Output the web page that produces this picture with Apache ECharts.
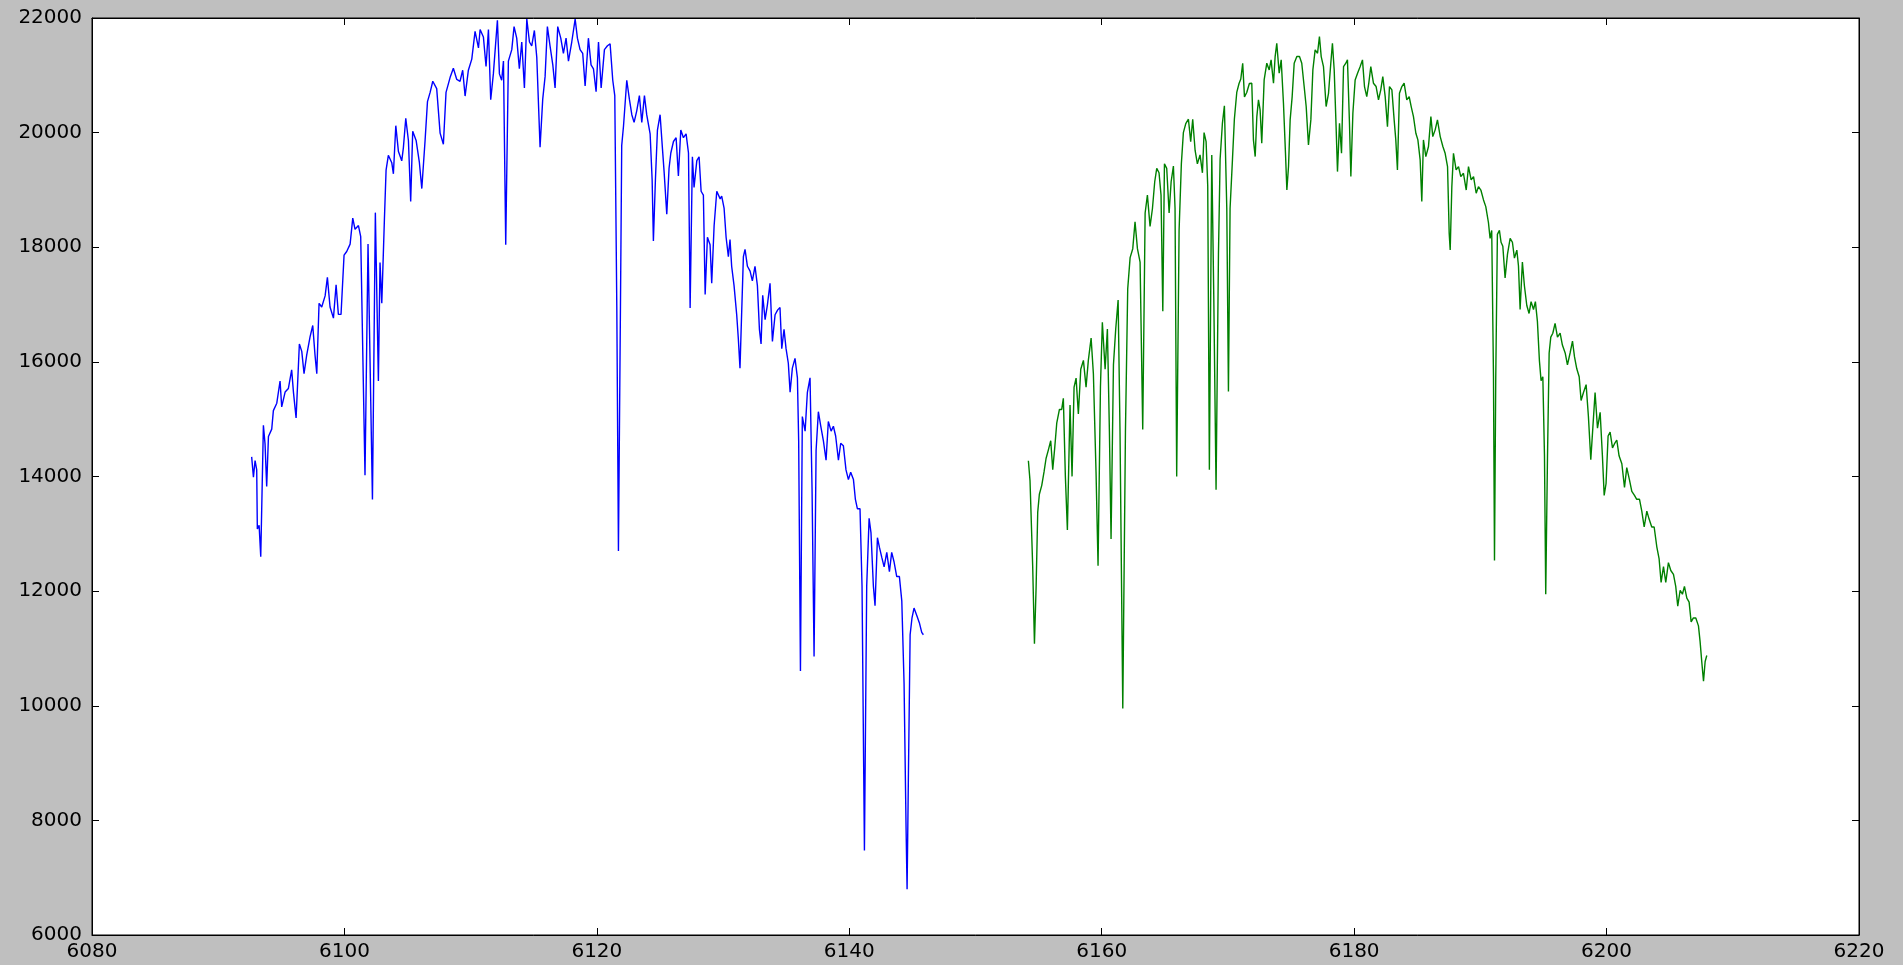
<!DOCTYPE html>
<html>
<head>
<meta charset="utf-8">
<script src="https://cdn.jsdelivr.net/npm/echarts@6/dist/echarts.min.js"></script>
<style>
html,body{margin:0;padding:0;background:#bfbfbf;}
#chart{width:1903px;height:965px;}
</style>
</head>
<body>
<div id="chart"></div>
<script>
const xTicks = [6080, 6100, 6120, 6140, 6160, 6180, 6200, 6220];
const yTicks = [6000, 8000, 10000, 12000, 14000, 16000, 18000, 20000, 22000];

const blueX = [6092.65,6092.79,6092.92,6093.05,6093.10,6093.24,6093.37,6093.58,6093.71,6093.84,6093.98,6094.24,6094.37,6094.64,6094.90,6095.03,6095.30,6095.56,6095.82,6095.96,6096.17,6096.43,6096.62,6096.80,6097.01,6097.28,6097.49,6097.67,6097.81,6097.99,6098.20,6098.47,6098.65,6098.86,6099.13,6099.34,6099.52,6099.73,6099.97,6100.18,6100.45,6100.66,6100.84,6101.11,6101.29,6101.63,6101.87,6102.22,6102.45,6102.69,6102.82,6102.96,6103.17,6103.30,6103.48,6103.75,6103.88,6104.07,6104.28,6104.54,6104.67,6104.86,6105.07,6105.25,6105.41,6105.68,6105.94,6106.13,6106.39,6106.58,6106.79,6107.00,6107.31,6107.58,6107.84,6108.05,6108.37,6108.63,6108.90,6109.16,6109.37,6109.56,6109.82,6110.09,6110.35,6110.62,6110.75,6111.01,6111.22,6111.41,6111.59,6111.80,6112.12,6112.28,6112.46,6112.60,6112.78,6112.99,6113.26,6113.44,6113.65,6113.86,6114.05,6114.26,6114.45,6114.66,6114.84,6115.05,6115.24,6115.50,6115.71,6115.90,6116.08,6116.29,6116.51,6116.69,6116.90,6117.14,6117.35,6117.56,6117.75,6118.01,6118.28,6118.46,6118.67,6118.88,6119.07,6119.33,6119.54,6119.73,6119.94,6120.13,6120.34,6120.60,6120.84,6121.05,6121.26,6121.42,6121.58,6121.71,6121.87,6121.97,6122.11,6122.24,6122.37,6122.58,6122.77,6122.95,6123.16,6123.37,6123.56,6123.77,6123.95,6124.22,6124.38,6124.48,6124.64,6124.80,6125.01,6125.20,6125.33,6125.54,6125.72,6125.86,6126.07,6126.28,6126.46,6126.65,6126.86,6127.07,6127.26,6127.39,6127.57,6127.70,6127.92,6128.10,6128.26,6128.44,6128.58,6128.76,6128.97,6129.10,6129.29,6129.50,6129.77,6129.89,6130.08,6130.24,6130.42,6130.55,6130.68,6130.87,6131.08,6131.21,6131.34,6131.48,6131.61,6131.74,6131.93,6132.14,6132.32,6132.53,6132.72,6132.88,6133.01,6133.14,6133.33,6133.51,6133.72,6133.91,6134.12,6134.33,6134.51,6134.65,6134.83,6134.99,6135.17,6135.31,6135.49,6135.70,6135.89,6135.99,6136.13,6136.28,6136.50,6136.68,6136.89,6137.05,6137.21,6137.37,6137.55,6137.74,6137.95,6138.16,6138.34,6138.56,6138.74,6138.92,6139.14,6139.32,6139.53,6139.74,6139.93,6140.11,6140.33,6140.48,6140.64,6140.85,6141.01,6141.20,6141.38,6141.57,6141.72,6141.91,6142.04,6142.23,6142.39,6142.57,6142.76,6142.97,6143.18,6143.36,6143.55,6143.76,6143.97,6144.16,6144.34,6144.50,6144.58,6144.68,6144.82,6144.97,6145.13,6145.34,6145.55,6145.74,6145.87];
const blueY = [14343,13988,14278,14117,13084,13148,12600,14892,14569,13826,14698,14827,15150,15279,15666,15214,15473,15537,15860,15473,15021,16312,16183,15795,16118,16441,16635,16118,15795,17022,16958,17151,17474,16958,16764,17345,16828,16828,17861,17926,18055,18507,18313,18378,18184,14020,18055,13600,18604,15666,17732,17022,18507,19346,19604,19475,19282,20121,19669,19508,19734,20250,19863,18798,20024,19863,19475,19024,19863,20541,20702,20896,20767,19992,19798,20702,20960,21122,20928,20896,21089,20638,21089,21283,21767,21477,21800,21670,21154,21800,20573,21025,21961,21025,20914,21248,18042,21248,21448,21849,21648,21114,21581,20780,21982,21581,21515,21782,21314,19745,20580,20981,21849,21515,21181,20780,21849,21648,21381,21648,21248,21581,21982,21648,21448,21381,20813,21648,21181,21114,20713,21581,20780,21448,21515,21548,20914,20646,16974,12700,16974,19778,20112,20513,20914,20580,20313,20179,20380,20646,20179,20646,20313,19979,19177,18109,19177,20045,20313,19712,19311,18576,19378,19645,19845,19912,19244,20045,19912,19979,19645,16940,19578,19044,19511,19578,18977,18910,17174,18176,18042,17374,18376,18977,18844,18894,18683,18175,17837,18133,17668,17330,16822,16399,15891,16907,17837,17964,17668,17583,17414,17668,17330,16568,16314,17160,16737,16991,17372,16357,16822,16907,16949,16230,16568,16230,15976,15469,15891,16061,15722,14623,10605,15046,14792,15469,15722,13777,10858,14454,15130,14877,14623,14284,14961,14792,14877,14707,14284,14580,14538,14115,13946,14073,13946,13607,13438,13438,12085,7474,12085,13269,13015,12085,11747,12931,12762,12592,12423,12677,12339,12677,12508,12254,12254,11831,10393,7855,6798,8701,11239,11535,11704,11578,11450,11281,11239];

const greenX = [6154.19,6154.32,6154.53,6154.67,6154.80,6154.93,6155.06,6155.25,6155.43,6155.59,6155.78,6155.96,6156.12,6156.28,6156.44,6156.65,6156.83,6156.96,6157.12,6157.28,6157.49,6157.65,6157.81,6157.97,6158.15,6158.34,6158.55,6158.76,6158.94,6159.16,6159.34,6159.55,6159.71,6159.90,6160.05,6160.27,6160.45,6160.61,6160.74,6160.93,6161.11,6161.30,6161.45,6161.67,6161.88,6162.06,6162.25,6162.46,6162.64,6162.83,6163.04,6163.25,6163.44,6163.62,6163.83,6164.02,6164.20,6164.36,6164.54,6164.70,6164.84,6164.97,6165.15,6165.34,6165.50,6165.68,6165.81,6165.94,6166.13,6166.31,6166.47,6166.66,6166.87,6167.05,6167.21,6167.40,6167.58,6167.79,6167.98,6168.11,6168.27,6168.40,6168.53,6168.72,6168.88,6169.06,6169.25,6169.38,6169.56,6169.72,6169.91,6170.04,6170.17,6170.36,6170.51,6170.70,6170.88,6171.02,6171.17,6171.31,6171.49,6171.70,6171.89,6172.02,6172.16,6172.29,6172.42,6172.55,6172.68,6172.87,6173.08,6173.27,6173.42,6173.61,6173.74,6173.87,6174.06,6174.22,6174.40,6174.56,6174.67,6174.80,6174.93,6175.09,6175.25,6175.46,6175.67,6175.85,6176.04,6176.20,6176.38,6176.57,6176.73,6176.91,6177.10,6177.25,6177.39,6177.57,6177.78,6177.97,6178.15,6178.28,6178.42,6178.57,6178.68,6178.84,6179.00,6179.16,6179.34,6179.47,6179.63,6179.74,6179.90,6180.08,6180.27,6180.48,6180.66,6180.82,6181.00,6181.16,6181.32,6181.53,6181.74,6181.93,6182.11,6182.27,6182.46,6182.64,6182.80,6182.99,6183.17,6183.30,6183.43,6183.59,6183.78,6183.96,6184.17,6184.36,6184.52,6184.70,6184.89,6185.05,6185.23,6185.36,6185.49,6185.68,6185.89,6186.08,6186.23,6186.42,6186.60,6186.82,6187.03,6187.21,6187.40,6187.53,6187.61,6187.74,6187.87,6188.08,6188.27,6188.45,6188.66,6188.88,6189.06,6189.27,6189.46,6189.67,6189.85,6190.04,6190.25,6190.43,6190.64,6190.77,6190.90,6191.04,6191.12,6191.22,6191.35,6191.51,6191.64,6191.78,6191.96,6192.15,6192.36,6192.54,6192.70,6192.89,6193.02,6193.15,6193.33,6193.49,6193.68,6193.86,6194.02,6194.21,6194.36,6194.52,6194.68,6194.81,6194.95,6195.08,6195.18,6195.32,6195.45,6195.58,6195.74,6195.92,6196.11,6196.32,6196.50,6196.72,6196.90,6197.11,6197.30,6197.46,6197.64,6197.83,6197.98,6198.17,6198.38,6198.56,6198.75,6198.91,6199.09,6199.28,6199.49,6199.67,6199.81,6199.96,6200.12,6200.28,6200.47,6200.62,6200.81,6200.99,6201.21,6201.42,6201.60,6201.81,6202.00,6202.21,6202.39,6202.61,6202.79,6202.98,6203.19,6203.37,6203.58,6203.77,6203.98,6204.16,6204.32,6204.51,6204.69,6204.90,6205.09,6205.30,6205.48,6205.64,6205.83,6206.01,6206.17,6206.36,6206.54,6206.70,6206.88,6207.07,6207.28,6207.41,6207.54,6207.68,6207.81,6207.94];
const greenY = [14275,13924,12444,11081,12054,13379,13690,13846,14080,14314,14469,14625,14119,14508,14937,15170,15170,15365,14002,13067,15248,14002,15560,15716,15092,15872,16027,15560,16027,16417,15794,14080,12444,15560,16690,15872,16573,14781,12911,15950,16573,17079,14781,9951,14781,17274,17819,17975,18442,17975,17741,14820,18598,18910,18364,18676,19143,19377,19299,18910,16884,19455,19377,18598,19143,19416,18676,14002,18287,19455,20000,20156,20234,19844,20234,19689,19455,19611,19299,20000,19844,19065,14119,19611,17118,13768,17897,19533,20156,20468,18676,15482,18676,19533,20234,20701,20857,20935,21208,20624,20701,20857,20862,19873,19582,20280,20571,20396,19815,20920,21211,21094,21269,20862,21327,21560,21036,21269,20513,19640,19000,19408,20222,20629,21211,21327,21327,21211,20804,20455,19786,20222,21094,21444,21385,21676,21327,21153,20455,20687,21211,21560,21094,20105,19320,20164,19640,21153,21211,21269,20164,19233,20338,20920,21036,21153,21269,20804,20629,20862,21153,20862,20804,20571,20746,20978,20629,20105,20804,20746,20222,19873,19349,20687,20804,20862,20571,20629,20455,20280,19989,19873,19524,18797,19873,19582,19757,20280,19931,20048,20222,19931,19757,19640,19408,18244,17953,19058,19640,19349,19408,19233,19291,18998,19408,19175,19233,18942,19058,18998,18826,18709,18432,18156,18294,15741,12533,15741,18225,18294,18087,18018,17466,17880,18156,18087,17811,17949,17673,16914,17742,17328,16983,16845,17052,16914,17052,16707,16017,15672,15741,14361,11946,14361,16155,16431,16500,16672,16431,16500,16293,16155,15948,16155,16362,16086,15879,15741,15327,15465,15603,15051,14292,14844,15465,14844,15120,14361,13671,13878,14706,14775,14499,14568,14637,14361,14223,13809,14154,13947,13740,13671,13602,13602,13395,13119,13395,13257,13119,13119,12774,12569,12153,12429,12153,12498,12360,12291,12084,11739,12015,11946,12084,11877,11808,11463,11532,11532,11394,11118,10773,10428,10773,10877];

const zip = (xs, ys) => xs.map((x, i) => [x, ys[i]]);
const fmt = v => String(v);

const xMin = xTicks[0], xMax = xTicks[xTicks.length - 1], xStep = xTicks[1] - xTicks[0];
const yMin = yTicks[0], yMax = yTicks[yTicks.length - 1], yStep = yTicks[1] - yTicks[0];

const font = 'DejaVu Sans, sans-serif';
function xAxisDef(pos, labels) {
  return {
    type: 'value', position: pos, min: xMin, max: xMax, interval: xStep,
    axisLine: { show: true, onZero: false, lineStyle: { color: '#000', width: 1 } },
    axisTick: { show: true, inside: true, length: 7, lineStyle: { color: '#000', width: 1 } },
    axisLabel: { show: labels, color: '#000', fontSize: 20, fontFamily: font, margin: 7, formatter: fmt },
    splitLine: { show: false }
  };
}
function yAxisDef(pos, labels) {
  return {
    type: 'value', position: pos, min: yMin, max: yMax, interval: yStep,
    axisLine: { show: true, onZero: false, lineStyle: { color: '#000', width: 1 } },
    axisTick: { show: true, inside: true, length: 7, lineStyle: { color: '#000', width: 1 } },
    axisLabel: { show: labels, color: '#000', fontSize: 20, fontFamily: font, margin: 10, formatter: fmt },
    splitLine: { show: false }
  };
}

const chart = echarts.init(document.getElementById('chart'), null, { renderer: 'canvas' });
chart.setOption({
  animation: false,
  backgroundColor: '#bfbfbf',
  grid: { left: 92, right: 44, top: 18, bottom: 30, show: true, backgroundColor: '#ffffff', borderColor: '#000', borderWidth: 1 },
  xAxis: [xAxisDef('bottom', true), xAxisDef('top', false)],
  yAxis: [yAxisDef('left', true), yAxisDef('right', false)],
  series: [
    { type: 'line', xAxisIndex: 0, yAxisIndex: 0, data: zip(blueX, blueY), showSymbol: false, symbol: 'none',
      lineStyle: { color: '#0000ff', width: 1.4 }, itemStyle: { color: '#0000ff' } },
    { type: 'line', xAxisIndex: 0, yAxisIndex: 0, data: zip(greenX, greenY), showSymbol: false, symbol: 'none',
      lineStyle: { color: '#008000', width: 1.4 }, itemStyle: { color: '#008000' } }
  ]
});
</script>
</body>
</html>
